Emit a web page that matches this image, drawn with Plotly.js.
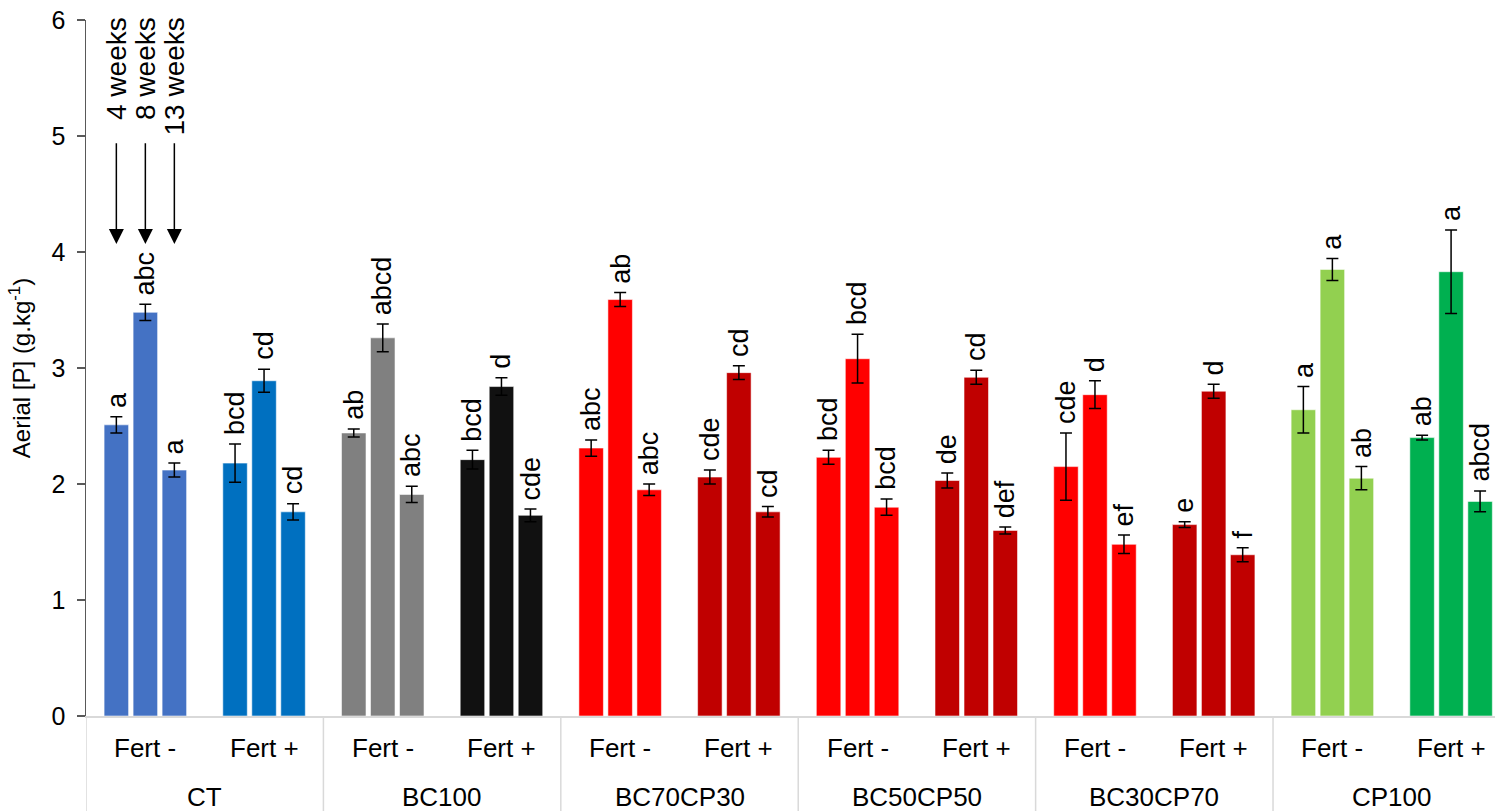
<!DOCTYPE html>
<html>
<head>
<meta charset="utf-8">
<script src="https://cdn.plot.ly/plotly-3.0.1.min.js"></script>
<style>html,body{margin:0;padding:0;background:#fff;}#chart{width:1495px;height:811px;}</style>
</head>
<body>
<div id="chart"></div>
<script>
// ---------- data ----------
const groups = ['CT', 'BC100', 'BC70CP30', 'BC50CP50', 'BC30CP70', 'CP100'];
const fertLevels = ['Fert -', 'Fert +'];
const weekNames = ['4 weeks', '8 weeks', '13 weeks'];

// one value per (group, fert) category, in order CT-,CT+,BC100-,BC100+,...
const week4  = [2.51, 2.18, 2.44, 2.21, 2.31, 2.06, 2.23, 2.03, 2.15, 1.65, 2.64, 2.40];
const week8  = [3.48, 2.89, 3.26, 2.84, 3.59, 2.96, 3.08, 2.92, 2.77, 2.80, 3.85, 3.83];
const week13 = [2.12, 1.76, 1.91, 1.73, 1.95, 1.76, 1.80, 1.60, 1.48, 1.39, 2.05, 1.85];

const err4  = [0.07, 0.165, 0.035, 0.08, 0.07, 0.06, 0.06, 0.065, 0.29, 0.025, 0.20, 0.02];
const err8  = [0.07, 0.10, 0.12, 0.075, 0.06, 0.06, 0.21, 0.06, 0.12, 0.06, 0.095, 0.36];
const err13 = [0.06, 0.07, 0.07, 0.055, 0.05, 0.045, 0.07, 0.03, 0.08, 0.06, 0.10, 0.09];

const letters4  = ['a', 'bcd', 'ab', 'bcd', 'abc', 'cde', 'bcd', 'de', 'cde', 'e', 'a', 'ab'];
const letters8  = ['abc', 'cd', 'abcd', 'd', 'ab', 'cd', 'bcd', 'cd', 'd', 'd', 'a', 'a'];
const letters13 = ['a', 'cd', 'abc', 'cde', 'abc', 'cd', 'bcd', 'def', 'ef', 'f', 'ab', 'abcd'];

const categoryColors = ['#4472C4', '#0070C0', '#808080', '#111111', '#FF0000', '#C00000',
                        '#FF0000', '#C00000', '#FF0000', '#C00000', '#92D050', '#00B050'];

// ---------- build ----------
const nCat = groups.length * fertLevels.length;
const xIdx = Array.from({length: nCat}, (_, i) => i);
const seriesVals = [week4, week8, week13];
const seriesErr = [err4, err8, err13];
const seriesLetters = [letters4, letters8, letters13];

const BARGAP = 0.267, BARGROUPGAP = 0.155;
const slot = (1 - BARGAP) / 3;
const FONT = '"Liberation Sans", Arial, sans-serif';

const traces = seriesVals.map((vals, k) => ({
  type: 'bar',
  name: weekNames[k],
  x: xIdx,
  y: vals,
  marker: {color: categoryColors, line: {color: 'rgba(255,255,255,0.55)', width: 1}},
  error_y: {type: 'data', array: seriesErr[k], visible: true, color: '#000', thickness: 1.5, width: 6},
  showlegend: false,
  hoverinfo: 'x+y'
}));

const annotations = [];
// significance letters
seriesVals.forEach((vals, k) => {
  vals.forEach((v, i) => {
    annotations.push({
      x: i + (k - 1) * slot, y: v + seriesErr[k][i], xref: 'x', yref: 'y',
      text: seriesLetters[k][i], textangle: -90, showarrow: false,
      xanchor: 'center', yanchor: 'bottom', yshift: 7,
      font: {family: FONT, size: 27, color: '#000'}
    });
  });
});
// week labels + arrows over the first category
weekNames.forEach((w, k) => {
  const xx = 0 + (k - 1) * slot;
  annotations.push({
    x: xx, y: 1.007, xref: 'x', yref: 'paper', text: w, textangle: -90, showarrow: false,
    xanchor: 'center', yanchor: 'top', font: {family: FONT, size: 28, color: '#000'}
  });
  annotations.push({
    x: xx, y: 4.07, xref: 'x', yref: 'y', ax: xx, ay: 4.95, axref: 'x', ayref: 'y',
    text: '', showarrow: true, arrowhead: 2, arrowsize: 2, arrowwidth: 1.5, arrowcolor: '#000', standoff: 0
  });
});
// fert labels
xIdx.forEach(i => {
  annotations.push({
    x: i, y: -0.046, xref: 'x', yref: 'paper', text: fertLevels[i % 2], showarrow: false,
    xanchor: 'center', yanchor: 'middle', font: {family: FONT, size: 26, color: '#000'}
  });
});
// group labels
groups.forEach((g, j) => {
  annotations.push({
    x: j * 2 + 0.5, y: -0.1164, xref: 'x', yref: 'paper', text: g, showarrow: false,
    xanchor: 'center', yanchor: 'middle', font: {family: FONT, size: 26, color: '#000'}
  });
});

const shapes = groups.map((g, j) => ({
  type: 'line', xref: 'x', yref: 'paper', x0: j * 2 - 0.5, x1: j * 2 - 0.5, y0: 0, y1: -0.16,
  line: {color: '#d9d9d9', width: 1.5}
}));

const layout = {
  width: 1495, height: 811,
  margin: {l: 86, r: 0, t: 20, b: 95},
  paper_bgcolor: '#fff', plot_bgcolor: '#fff',
  barmode: 'group', bargap: BARGAP, bargroupgap: BARGROUPGAP,
  font: {family: FONT, color: '#000'},
  xaxis: {
    range: [-0.5, 11.37], showgrid: false, zeroline: false, showticklabels: false, ticks: '',
    showline: true, linecolor: '#d9d9d9', linewidth: 1.5, fixedrange: true
  },
  yaxis: {
    range: [0, 6], dtick: 1, showgrid: false, zeroline: false,
    showline: true, linecolor: '#595959', linewidth: 1.5,
    ticks: 'outside', ticklen: 8, tickwidth: 1.5, tickcolor: '#595959',
    tickfont: {family: FONT, size: 25, color: '#000'}, ticklabelstandoff: 6,
    title: {text: 'Aerial [P] (g.kg<sup>-1</sup>)', font: {family: FONT, size: 24, color: '#000'}, standoff: 14},
    fixedrange: true
  },
  annotations: annotations,
  shapes: shapes
};

Plotly.newPlot('chart', traces, layout, {displayModeBar: false, staticPlot: true});
</script>
</body>
</html>
